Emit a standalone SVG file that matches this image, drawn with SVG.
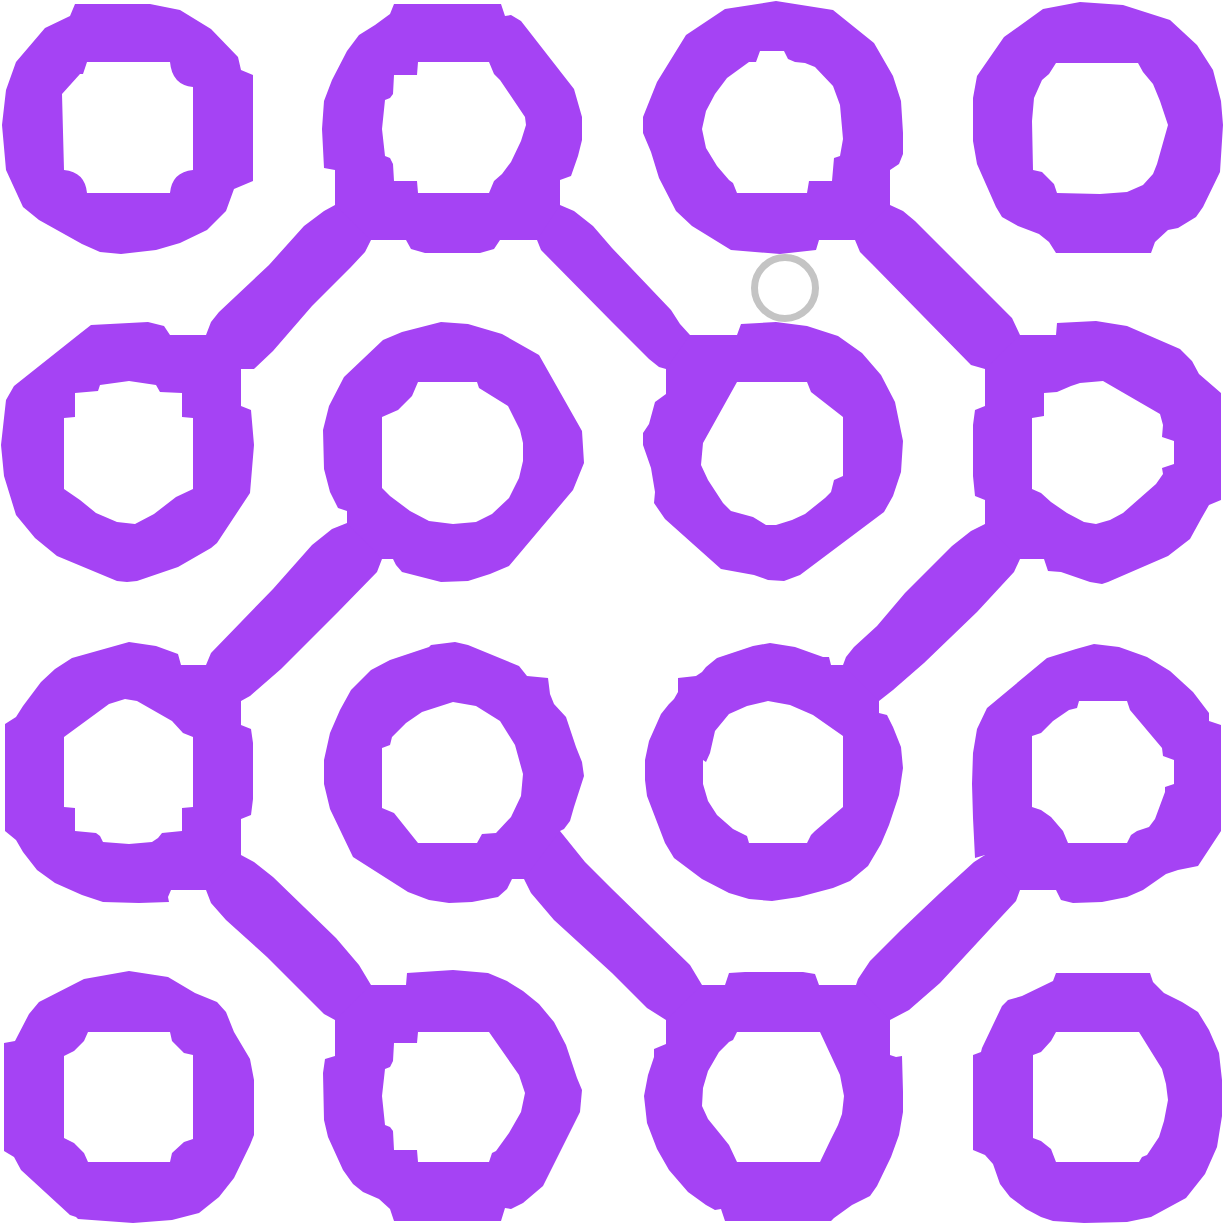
<svg xmlns="http://www.w3.org/2000/svg" width="1224" height="1224" viewBox="0 0 1224 1224">
<style>
.ring,.link{fill:#A543F4;fill-rule:evenodd}
.marker{fill:none;stroke:#C4C4C4;stroke-width:7}
</style>
<rect width="1224" height="1224" fill="#FFFFFF"/>
<g id="connectors">
<path class="link" d="M206,335 L211,322 L219,312 L269,265 L304,226 L324,211 L335,205 L371,205 L371,240 L365,252 L351,267 L312,306 L273,351 L254,369 L241,369 L206,369 Z"/>
<path class="link" d="M560,205 L574,211 L593,226 L612,248 L671,310 L680,324 L690,335 L690,369 L666,369 L659,367 L649,359 L612,322 L541,250 L537,240 L537,205 Z"/>
<path class="link" d="M890,205 L903,211 L915,221 L1001,307 L1012,318 L1020,335 L1020,369 L985,369 L971,365 L872,264 L860,252 L855,240 L855,205 Z"/>
<path class="link" d="M347,523 L332,529 L312,545 L273,589 L211,653 L206,665 L206,701 L241,701 L250,696 L281,669 L338,612 L377,572 L382,559 L382,523 Z"/>
<path class="link" d="M985,524 L971,531 L952,546 L905,593 L877,626 L854,647 L846,657 L843,665 L843,701 L879,701 L893,690 L924,663 L977,612 L1014,572 L1020,559 L1020,524 Z"/>
<path class="link" d="M241,855 L254,862 L273,877 L304,907 L336,938 L359,965 L365,975 L371,985 L371,1020 L335,1020 L324,1014 L267,957 L226,920 L211,903 L206,890 L206,855 Z"/>
<path class="link" d="M560,831 L585,862 L612,889 L690,965 L702,985 L702,1020 L666,1020 L647,1008 L628,989 L612,973 L554,920 L531,893 L524,879 L524,831 Z"/>
<path class="link" d="M985,855 L974,862 L940,893 L901,930 L870,961 L858,979 L856,985 L856,1020 L890,1020 L909,1010 L940,983 L989,930 L1002,916 L1016,901 L1020,890 L1020,855 Z"/>
</g>
<g id="ring-a"><path class="ring" d="M75,4 L150,4 L180,10 L211,29 L238,57 L241,70 L253,75 L253,181 L234,189 L226,211 L207,230 L180,243 L156,250 L121,254 L100,252 L82,244 L39,220 L23,207 L6,170 L2,125 L6,90 L16,62 L45,28 L70,16 Z M87,62 L170,62 Q172,85 193,87 L193,170 Q172,172 170,193 L87,193 Q85,172 64,170 L62,94 L80,74 L83,74 Z"/></g>
<g id="ring-b"><path class="ring" d="M394,4 L501,4 L505,16 L511,15 L521,21 L574,89 L582,117 L582,140 L578,156 L571,176 L560,180 L560,205 L537,240 L500,240 L494,249 L480,253 L425,253 L411,249 L406,240 L371,240 L335,205 L335,170 L324,168 L322,129 L324,101 L332,80 L347,51 L359,35 L375,25 L390,14 Z M418,62 L489,62 L494,74 L500,80 L525,117 L526,125 L521,141 L511,162 L502,174 L494,181 L489,193 L418,193 L417,181 L394,181 L393,164 L390,158 L385,156 L382,129 L385,100 L390,98 L393,94 L394,75 L417,75 Z"/></g>
<g id="ring-c"><path class="ring" d="M725,9 L776,1 L833,10 L874,43 L893,76 L901,101 L903,133 L903,154 L899,164 L890,170 L890,205 L855,240 L819,240 L816,250 L780,254 L731,250 L692,226 L676,211 L659,178 L651,152 L643,133 L643,117 L657,82 L686,35 Z M760,51 L784,51 L788,59 L795,62 L805,63 L815,67 L833,86 L840,105 L843,139 L840,156 L834,158 L832,181 L809,181 L807,193 L737,193 L733,183 L729,180 L717,166 L706,148 L702,129 L706,111 L715,94 L727,78 L749,62 L756,62 Z"/></g>
<g id="ring-d"><path class="ring" d="M1043,9 L1080,2 L1123,5 L1170,20 L1197,45 L1213,70 L1221,101 L1223,125 L1220,172 L1203,207 L1196,217 L1178,228 L1168,230 L1155,242 L1151,253 L1056,253 L1049,242 L1039,234 L1018,226 L1002,217 L996,207 L977,164 L973,141 L973,98 L977,76 L1004,37 Z M1056,63 L1138,63 L1143,72 L1153,84 L1160,101 L1168,125 L1157,164 L1153,174 L1143,185 L1127,192 L1100,194 L1057,193 L1054,184 L1042,172 L1033,170 L1032,121 L1034,98 L1042,80 L1049,74 Z"/></g>
<g id="ring-e"><path class="ring" d="M91,325 L148,322 L164,326 L170,335 L206,335 L241,369 L241,406 L251,410 L254,445 L250,493 L217,543 L211,548 L178,567 L137,581 L127,582 L117,581 L57,556 L35,538 L16,515 L4,476 L1,445 L6,400 L14,386 L82,332 Z M100,385 L129,381 L156,385 L160,392 L182,393 L182,417 L193,418 L193,489 L176,497 L154,514 L135,524 L117,522 L96,513 L80,500 L64,489 L64,418 L75,417 L75,393 L98,391 Z"/></g>
<g id="ring-f"><path class="ring" d="M402,332 L441,322 L468,324 L502,334 L539,355 L582,431 L584,463 L573,490 L509,566 L490,574 L468,581 L441,582 L402,572 L396,565 L393,559 L382,559 L347,523 L347,511 L338,508 L330,492 L324,469 L323,430 L329,406 L344,377 L383,340 Z M418,382 L477,382 L479,388 L508,406 L520,430 L523,443 L523,461 L519,478 L509,498 L492,514 L476,522 L453,524 L429,521 L410,511 L390,496 L382,488 L382,417 L398,410 L412,396 Z"/></g>
<g id="ring-g"><path class="ring" d="M741,324 L776,322 L807,326 L838,336 L862,353 L881,375 L895,402 L903,441 L901,472 L893,496 L884,512 L800,575 L784,581 L768,580 L754,575 L721,569 L665,519 L654,503 L655,492 L651,468 L643,445 L643,433 L649,424 L655,402 L666,394 L666,369 L690,335 L737,335 Z M737,382 L807,382 L811,392 L843,417 L843,476 L834,480 L831,492 L825,498 L805,514 L792,520 L776,525 L766,525 L753,517 L731,511 L723,503 L708,480 L701,465 L703,443 Z"/></g>
<g id="ring-h"><path class="ring" d="M1057,323 L1096,321 L1127,326 L1180,349 L1192,361 L1199,374 L1221,393 L1221,500 L1209,505 L1201,519 L1190,539 L1168,556 L1108,582 L1102,584 L1090,582 L1061,572 L1048,571 L1044,559 L1020,559 L985,524 L985,500 L975,496 L973,476 L973,425 L975,410 L985,406 L985,369 L1020,335 L1056,335 Z M1044,393 L1057,392 L1071,386 L1080,383 L1103,381 L1160,414 L1163,425 L1162,437 L1174,441 L1174,464 L1162,468 L1163,474 L1156,484 L1123,513 L1110,520 L1096,524 L1084,522 L1067,513 L1051,502 L1041,493 L1032,489 L1032,418 L1044,416 Z"/></g>
<g id="ring-i"><path class="ring" d="M72,658 L129,642 L156,646 L178,654 L181,665 L206,665 L241,701 L241,725 L251,729 L253,743 L253,799 L251,815 L241,819 L241,855 L206,890 L171,890 L168,897 L169,902 L139,903 L103,902 L82,895 L55,883 L37,870 L23,852 L16,840 L5,831 L5,724 L16,717 L23,706 L41,682 L55,669 Z M64,737 L109,704 L125,699 L137,701 L172,721 L183,733 L193,737 L193,807 L182,808 L182,831 L162,833 L158,838 L152,842 L129,844 L103,842 L100,836 L96,833 L75,831 L75,808 L64,807 Z"/></g>
<g id="ring-j"><path class="ring" d="M431,645 L455,642 L468,645 L519,666 L527,676 L548,678 L550,694 L554,704 L566,717 L576,747 L582,762 L584,776 L574,807 L570,821 L564,829 L560,831 L524,879 L512,879 L507,889 L498,897 L472,902 L449,903 L429,900 L408,892 L353,857 L330,809 L324,784 L324,760 L330,733 L340,710 L351,690 L371,670 L390,660 L429,647 Z M382,748 L390,745 L392,737 L406,723 L422,712 L453,702 L476,706 L500,721 L515,745 L523,774 L521,796 L511,817 L496,833 L482,834 L477,843 L418,843 L394,813 L382,808 Z"/></g>
<g id="ring-k"><path class="ring" d="M717,658 L753,646 L770,643 L795,647 L823,657 L829,657 L831,665 L843,665 L879,701 L879,713 L887,715 L893,727 L901,747 L903,768 L899,795 L889,825 L881,844 L868,866 L850,881 L833,888 L799,897 L772,901 L749,899 L729,893 L702,879 L674,858 L665,843 L647,796 L645,780 L645,760 L649,741 L661,714 L669,704 L674,699 L678,692 L678,678 L696,676 L702,672 L706,667 Z M715,731 L729,714 L747,706 L768,701 L790,705 L813,715 L843,736 L843,807 L815,831 L811,835 L807,843 L749,843 L747,836 L733,829 L717,815 L708,801 L703,784 L703,760 L706,762 L710,753 Z"/></g>
<g id="ring-l"><path class="ring" d="M1047,658 L1076,649 L1094,644 L1119,647 L1147,657 L1170,671 L1193,692 L1209,713 L1209,721 L1221,725 L1221,831 L1198,866 L1178,870 L1166,874 L1143,890 L1127,897 L1102,902 L1073,903 L1061,900 L1056,890 L1020,890 L985,855 L975,858 L973,818 L972,784 L973,753 L977,729 L987,708 Z M1032,736 L1041,733 L1053,721 L1069,710 L1077,708 L1079,701 L1127,701 L1130,710 L1162,748 L1163,756 L1174,760 L1174,784 L1165,787 L1165,792 L1155,819 L1149,827 L1137,831 L1131,835 L1127,843 L1068,843 L1063,831 L1051,817 L1041,810 L1032,807 Z"/></g>
<g id="ring-m"><path class="ring" d="M84,979 L129,971 L168,977 L195,993 L217,1002 L226,1012 L234,1032 L250,1059 L254,1080 L254,1135 L250,1145 L234,1178 L219,1197 L199,1213 L172,1220 L133,1223 L78,1219 L76,1217 L70,1215 L21,1170 L14,1157 L4,1151 L4,1043 L15,1041 L29,1014 L39,1002 Z M88,1032 L170,1032 L172,1041 L184,1053 L193,1055 L193,1139 L184,1142 L172,1153 L170,1162 L88,1162 L84,1153 L74,1143 L64,1138 L64,1056 L74,1051 L84,1041 Z"/></g>
<g id="ring-n"><path class="ring" d="M407,973 L453,970 L488,973 L507,981 L523,991 L539,1004 L554,1022 L566,1045 L577,1078 L582,1090 L580,1112 L543,1186 L523,1203 L511,1209 L505,1208 L501,1221 L394,1221 L390,1209 L379,1199 L363,1192 L353,1184 L343,1170 L328,1137 L324,1120 L323,1073 L325,1059 L335,1056 L335,1020 L371,985 L406,985 Z M418,1032 L489,1032 L519,1075 L525,1093 L521,1112 L509,1133 L496,1151 L492,1153 L489,1162 L418,1162 L417,1150 L394,1150 L393,1131 L390,1127 L385,1125 L382,1096 L385,1069 L390,1067 L393,1061 L394,1043 L417,1043 Z"/></g>
<g id="ring-o"><path class="ring" d="M729,973 L745,972 L803,972 L815,974 L819,985 L856,985 L890,1020 L890,1055 L896,1057 L902,1056 L903,1092 L903,1112 L899,1135 L891,1157 L877,1186 L870,1196 L852,1205 L834,1218 L831,1221 L725,1221 L721,1209 L715,1210 L706,1205 L688,1192 L669,1170 L657,1149 L647,1123 L644,1096 L648,1075 L654,1057 L654,1049 L666,1044 L666,1020 L702,985 L725,985 Z M737,1032 L820,1032 L840,1075 L844,1096 L842,1114 L838,1125 L831,1139 L820,1162 L737,1162 L729,1145 L721,1135 L708,1119 L702,1106 L703,1088 L708,1071 L719,1052 L729,1042 L733,1040 Z"/></g>
<g id="ring-p"><path class="ring" d="M1056,973 L1150,973 L1153,982 L1164,993 L1182,1002 L1198,1012 L1209,1030 L1219,1053 L1222,1080 L1222,1116 L1217,1147 L1205,1174 L1186,1198 L1151,1217 L1127,1222 L1084,1223 L1053,1221 L1041,1217 L1026,1209 L1010,1197 L1000,1184 L993,1164 L985,1155 L973,1150 L973,1055 L981,1052 L982,1048 L1002,1006 L1008,1000 L1022,996 L1053,981 Z M1056,1032 L1139,1032 L1162,1069 L1166,1084 L1168,1100 L1164,1121 L1159,1137 L1147,1155 L1142,1157 L1139,1162 L1056,1162 L1051,1149 L1041,1141 L1033,1138 L1033,1055 L1041,1052 L1051,1041 Z"/></g>
<g id="marker"><circle class="marker" cx="785" cy="288" r="30.5"/></g>
</svg>
